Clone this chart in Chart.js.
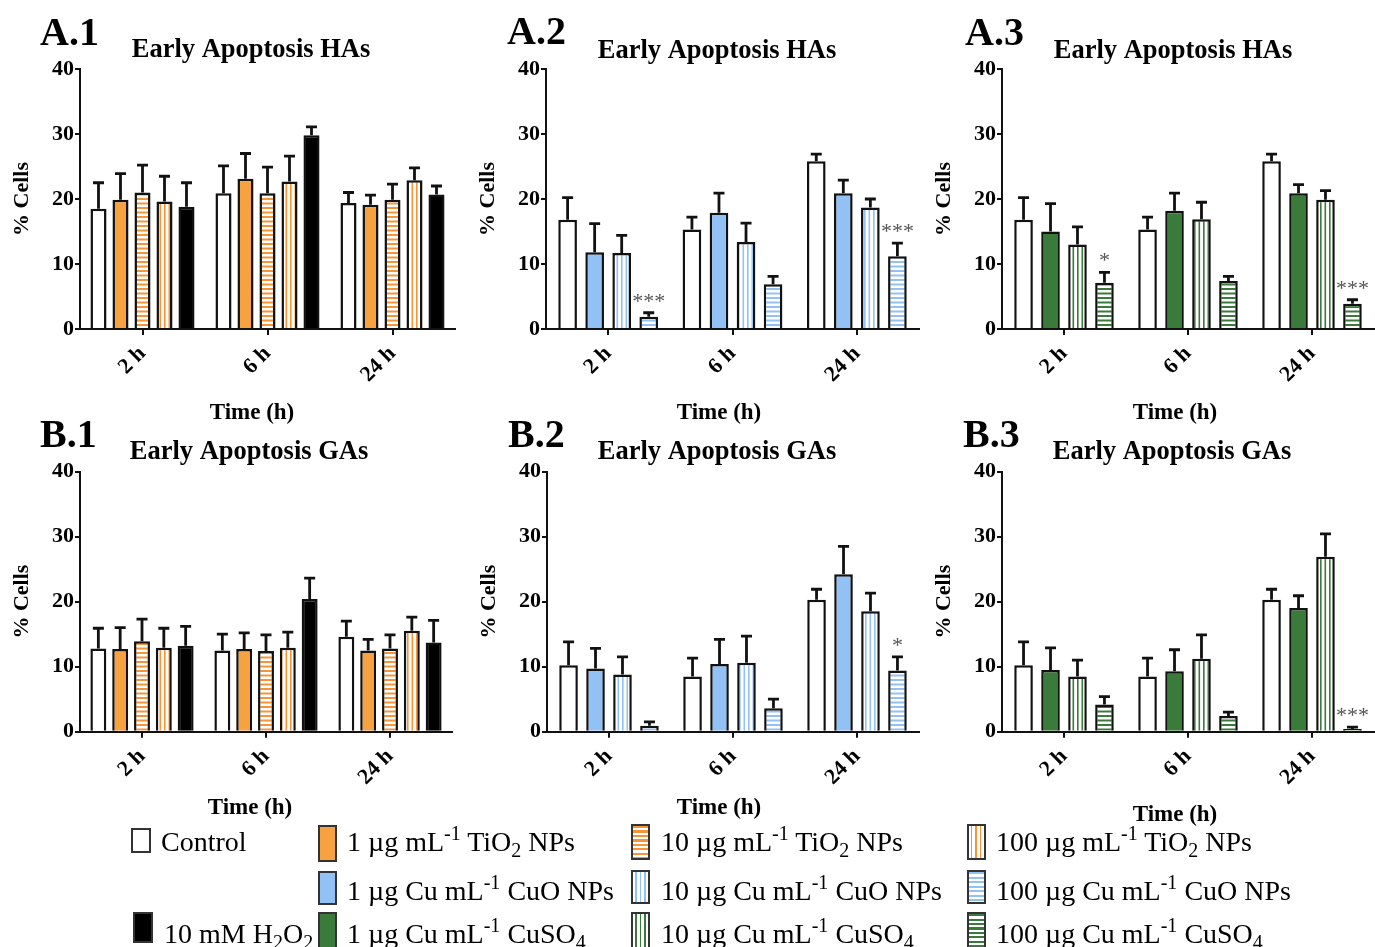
<!DOCTYPE html>
<html>
<head>
<meta charset="utf-8">
<script src="https://cdn.jsdelivr.net/npm/chart.js@4"></script>
<style>
html, body { margin: 0; padding: 0; background: #fff; }
body { width: 1375px; height: 947px; overflow: hidden; position: relative; font-family: "Liberation Serif", "Times New Roman", serif; }
canvas { position: absolute; }
.sw { position: absolute; box-sizing: border-box; border: 2px solid #333; }
.lt { position: absolute; font-size: 28px; line-height: 27px; white-space: nowrap; color: #000; }
.lt sup { font-size: 20px; line-height: 0; vertical-align: 11px; }
.lt sub { font-size: 20px; line-height: 0; vertical-align: -6px; }
</style>
</head>
<body>
<canvas id="a1"></canvas>
<canvas id="a2"></canvas>
<canvas id="a3"></canvas>
<canvas id="b1"></canvas>
<canvas id="b2"></canvas>
<canvas id="b3"></canvas>

<!-- legend -->
<div class="sw" style="left:131px;top:828px;width:20px;height:25px;background:#fff"></div>
<div class="lt" style="left:161px;top:828px">Control</div>
<div class="sw" style="left:133px;top:912px;width:20px;height:31px;background:#000"></div>
<div class="lt" style="left:164px;top:920px">10 mM H<sub>2</sub>O<sub>2</sub></div>

<div class="sw" style="left:318px;top:825px;width:19px;height:37px;background:#F7A240"></div>
<div class="lt" style="left:347px;top:828px">1 µg mL<sup>-1</sup> TiO<sub>2</sub> NPs</div>
<div class="sw" style="left:318px;top:871px;width:19px;height:34px;background:#92C1F5"></div>
<div class="lt" style="left:347px;top:877px">1 µg Cu mL<sup>-1</sup> CuO NPs</div>
<div class="sw" style="left:318px;top:912px;width:19px;height:40px;background:#3A7A3A"></div>
<div class="lt" style="left:347px;top:920px">1 µg Cu mL<sup>-1</sup> CuSO<sub>4</sub></div>

<div class="sw" style="left:631px;top:824px;width:19px;height:36px;background:repeating-linear-gradient(to bottom,#F79536 0 2px,#fff 2px 4.5px)"></div>
<div class="lt" style="left:661px;top:828px">10 µg mL<sup>-1</sup> TiO<sub>2</sub> NPs</div>
<div class="sw" style="left:631px;top:870px;width:19px;height:34px;background:repeating-linear-gradient(to right,#fff 0 2px,#92C1F5 2px 3.5px,#fff 3.5px 4.5px)"></div>
<div class="lt" style="left:661px;top:877px">10 µg Cu mL<sup>-1</sup> CuO NPs</div>
<div class="sw" style="left:631px;top:912px;width:19px;height:40px;background:repeating-linear-gradient(to right,#fff 0 2px,#3A7A3A 2px 3.5px,#fff 3.5px 4.5px)"></div>
<div class="lt" style="left:661px;top:920px">10 µg Cu mL<sup>-1</sup> CuSO<sub>4</sub></div>

<div class="sw" style="left:967px;top:824px;width:19px;height:36px;background:repeating-linear-gradient(to right,#fff 0 2px,#F79536 2px 3.5px,#fff 3.5px 4.5px)"></div>
<div class="lt" style="left:996px;top:828px">100 µg mL<sup>-1</sup> TiO<sub>2</sub> NPs</div>
<div class="sw" style="left:967px;top:870px;width:19px;height:34px;background:repeating-linear-gradient(to bottom,#92C1F5 0 2px,#fff 2px 4.5px)"></div>
<div class="lt" style="left:996px;top:877px">100 µg Cu mL<sup>-1</sup> CuO NPs</div>
<div class="sw" style="left:967px;top:912px;width:19px;height:40px;background:repeating-linear-gradient(to bottom,#3A7A3A 0 2px,#fff 2px 4.5px)"></div>
<div class="lt" style="left:996px;top:920px">100 µg Cu mL<sup>-1</sup> CuSO<sub>4</sub></div>

<script>
var times = ['2 h', '6 h', '24 h'];
var yTicks = [0, 10, 20, 30, 40];

// A.1 - HAs, TiO2
var a1Control = [18.5, 20.9, 19.4], a1ControlErr = [4.0, 4.2, 1.6];
var a1Tio1 = [19.9, 23.1, 19.1], a1Tio1Err = [4.0, 3.9, 1.5];
var a1Tio10 = [21.0, 20.9, 19.9], a1Tio10Err = [4.2, 4.0, 2.4];
var a1Tio100 = [19.6, 22.7, 22.9], a1Tio100Err = [3.9, 3.9, 1.9];
var a1H2o2 = [18.8, 29.8, 20.7], a1H2o2Err = [3.7, 1.3, 1.3];

// A.2 - HAs, CuO NPs
var a2Control = [16.8, 15.3, 25.8], a2ControlErr = [3.4, 1.9, 1.1];
var a2Cuo1 = [11.8, 17.9, 20.9], a2Cuo1Err = [4.4, 3.0, 2.0];
var a2Cuo10 = [11.7, 13.4, 18.7], a2Cuo10Err = [2.7, 2.9, 1.3];
var a2Cuo100 = [1.9, 6.9, 11.2], a2Cuo100Err = [0.6, 1.2, 2.0];
var a2Cuo100Sig = ['***', '', '***'];

// A.3 - HAs, CuSO4
var a3Control = [16.8, 15.3, 25.8], a3ControlErr = [3.4, 1.9, 1.1];
var a3Cuso1 = [15.0, 18.2, 20.9], a3Cuso1Err = [4.3, 2.7, 1.3];
var a3Cuso10 = [13.0, 16.9, 19.9], a3Cuso10Err = [2.7, 2.6, 1.4];
var a3Cuso100 = [7.1, 7.4, 3.9], a3Cuso100Err = [1.6, 0.7, 0.6];
var a3Cuso100Sig = ['*', '', '***'];

// B.1 - GAs, TiO2
var b1Control = [12.8, 12.5, 14.6], b1ControlErr = [3.1, 2.5, 2.4];
var b1Tio1 = [12.7, 12.7, 12.5], b1Tio1Err = [3.3, 2.5, 1.7];
var b1Tio10 = [13.9, 12.4, 12.8], b1Tio10Err = [3.4, 2.5, 2.1];
var b1Tio100 = [12.9, 12.9, 15.5], b1Tio100Err = [3.0, 2.4, 2.1];
var b1H2o2 = [13.2, 20.4, 13.7], b1H2o2Err = [3.0, 3.2, 3.4];

// B.2 - GAs, CuO NPs
var b2Control = [10.2, 8.5, 20.3], b2ControlErr = [3.6, 2.8, 1.6];
var b2Cuo1 = [9.7, 10.4, 24.2], b2Cuo1Err = [3.1, 3.8, 4.3];
var b2Cuo10 = [8.8, 10.6, 18.5], b2Cuo10Err = [2.7, 4.1, 2.8];
var b2Cuo100 = [0.9, 3.6, 9.4], b2Cuo100Err = [0.6, 1.4, 2.1];
var b2Cuo100Sig = ['', '', '*'];

// B.3 - GAs, CuSO4
var b3Control = [10.2, 8.5, 20.3], b3ControlErr = [3.6, 2.8, 1.6];
var b3Cuso1 = [9.5, 9.3, 19.0], b3Cuso1Err = [3.4, 3.3, 1.9];
var b3Cuso10 = [8.5, 11.2, 26.9], b3Cuso10Err = [2.5, 3.7, 3.5];
var b3Cuso100 = [4.2, 2.4, 0.4], b3Cuso100Err = [1.2, 0.6, 0.3];
var b3Cuso100Sig = ['', '', '***'];

var FONT = '"Liberation Serif", "Times New Roman", serif';
var ORANGE = '#F7A240', ORANGE_LINE = '#F79536';
var BLUE = '#92C1F5';
var GREEN = '#3A7A3A';

Chart.defaults.color = '#000';
Chart.defaults.font.family = FONT;

// striped fills
function stripes(color, vertical) {
	var c = document.createElement('canvas');
	var ctx = c.getContext('2d');
	if (vertical) {
		c.width = 9; c.height = 4;
		ctx.fillStyle = '#fff'; ctx.fillRect(0, 0, 9, 4);
		ctx.fillStyle = color;
		ctx.fillRect(2, 0, 1.6, 4);
		ctx.fillRect(6.5, 0, 1.6, 4);
	} else {
		c.width = 4; c.height = 9;
		ctx.fillStyle = '#fff'; ctx.fillRect(0, 0, 4, 9);
		ctx.fillStyle = color;
		ctx.fillRect(0, 0, 4, 2);
		ctx.fillRect(0, 4.5, 4, 2);
	}
	return ctx.createPattern(c, 'repeat');
}

// error bars (upper whisker) + significance marks
var errorBars = {
	id: 'errorBars',
	afterDatasetsDraw: function(chart) {
		var ctx = chart.ctx, y = chart.scales.y;
		ctx.save();
		chart.data.datasets.forEach(function(ds, i) {
			var meta = chart.getDatasetMeta(i);
			meta.data.forEach(function(bar, j) {
				var top = y.getPixelForValue(ds.data[j] + ds.errors[j]);
				ctx.strokeStyle = '#111';
				ctx.lineWidth = 2.8;
				ctx.beginPath();
				ctx.moveTo(bar.x, bar.y);
				ctx.lineTo(bar.x, top);
				ctx.moveTo(bar.x - 5.5, top);
				ctx.lineTo(bar.x + 5.5, top);
				ctx.stroke();
				if (ds.sig && ds.sig[j]) {
					ctx.fillStyle = '#555';
					ctx.font = '22px ' + FONT;
					ctx.textAlign = 'center';
					ctx.textBaseline = 'alphabetic';
					ctx.fillText(ds.sig[j], bar.x, top - 5);
				}
			});
		});
		ctx.restore();
	}
};

// panel letter, title, x axis title
var panelText = {
	id: 'panelText',
	afterDraw: function(chart, args, o) {
		var ctx = chart.ctx;
		ctx.save();
		ctx.fillStyle = '#000';
		ctx.textBaseline = 'alphabetic';
		ctx.textAlign = 'left';
		ctx.font = 'bold 40px ' + FONT;
		ctx.fillText(o.label, o.labelX, o.labelY);
		ctx.textAlign = 'center';
		ctx.font = 'bold 26.5px ' + FONT;
		ctx.fillText(o.title, o.titleX, o.titleY);
		ctx.textBaseline = 'middle';
		ctx.font = 'bold 23px ' + FONT;
		ctx.fillText('Time (h)', o.xTitleX, o.xTitleY);
		ctx.restore();
	}
};

function series(values, errors, bg, sig) {
	return { data: values, errors: errors, sig: sig, backgroundColor: bg };
}

// p: id, axisX, plotRight, rowTop, areaTop, areaBottom, label..., list
function panel(p) {
	var left = p.axisX - 80, top = p.rowTop, h = 432;
	var w = p.plotRight - p.axisX + 80 + 8;
	var canvas = document.getElementById(p.id);
	canvas.width = w; canvas.height = h;
	canvas.style.left = left + 'px'; canvas.style.top = top + 'px';
	var n = p.list.length;
	var cp = n == 5 ? 0.88 : 0.87;
	var bp = n == 5 ? 0.73 : 0.69;
	var datasets = p.list.map(function(s) {
		s.borderColor = '#111';
		s.borderWidth = 2.5;
		s.categoryPercentage = cp;
		s.barPercentage = bp;
		return s;
	});
	new Chart(canvas.getContext('2d'), {
		type: 'bar',
		data: { labels: times, datasets: datasets },
		plugins: [errorBars, panelText],
		options: {
			responsive: false,
			animation: false,
			layout: { padding: { left: 0, right: 8, top: p.areaTop - top, bottom: 0 } },
			plugins: {
				legend: { display: false },
				tooltip: { enabled: false },
				panelText: {
					label: p.label, labelX: p.labelX - left, labelY: p.labelY - top,
					title: p.title, titleX: p.titleX - left, titleY: p.titleY - top,
					xTitleX: p.xTitleX - left, xTitleY: p.xTitleY - top
				}
			},
			scales: {
				x: {
					grid: { drawOnChartArea: false, drawTicks: true, tickLength: 6, offset: false, color: '#111', lineWidth: 2 },
					border: { display: true, color: '#111', width: 2 },
					ticks: { minRotation: 45, maxRotation: 45, padding: 6, color: '#000', font: { size: 22, weight: 'bold' } },
					afterFit: function(s) { s.height = h - (p.areaBottom - top); }
				},
				y: {
					min: 0,
					max: 40,
					afterBuildTicks: function(s) { s.ticks = yTicks.map(function(v) { return { value: v }; }); },
					grid: { drawOnChartArea: false, drawTicks: true, tickLength: 5, color: '#111', lineWidth: 2 },
					border: { display: true, color: '#111', width: 2 },
					ticks: { padding: 1, color: '#000', font: { size: 22, weight: 'bold' } },
					title: { display: true, text: '% Cells', color: '#000', font: { size: 22, weight: 'bold' }, padding: { top: 9, bottom: 0 } },
					afterFit: function(s) { s.width = 80; }
				}
			}
		}
	});
}

var tio10 = stripes(ORANGE_LINE, false), tio100 = stripes(ORANGE_LINE, true);
var cuo10 = stripes(BLUE, true), cuo100 = stripes(BLUE, false);
var cuso10 = stripes(GREEN, true), cuso100 = stripes(GREEN, false);

panel({ id: 'a1', axisX: 80, plotRight: 455, rowTop: 0, areaTop: 69, areaBottom: 329,
	label: 'A.1', labelX: 40, labelY: 45, title: 'Early Apoptosis HAs', titleX: 251, titleY: 57, xTitleX: 252, xTitleY: 413,
	list: [series(a1Control, a1ControlErr, '#fff'), series(a1Tio1, a1Tio1Err, ORANGE), series(a1Tio10, a1Tio10Err, tio10),
		series(a1Tio100, a1Tio100Err, tio100), series(a1H2o2, a1H2o2Err, '#000')] });

panel({ id: 'a2', axisX: 546, plotRight: 919, rowTop: 0, areaTop: 69, areaBottom: 329,
	label: 'A.2', labelX: 507, labelY: 44, title: 'Early Apoptosis HAs', titleX: 717, titleY: 58, xTitleX: 719, xTitleY: 413,
	list: [series(a2Control, a2ControlErr, '#fff'), series(a2Cuo1, a2Cuo1Err, BLUE), series(a2Cuo10, a2Cuo10Err, cuo10),
		series(a2Cuo100, a2Cuo100Err, cuo100, a2Cuo100Sig)] });

panel({ id: 'a3', axisX: 1002, plotRight: 1374, rowTop: 0, areaTop: 69, areaBottom: 329,
	label: 'A.3', labelX: 965, labelY: 45, title: 'Early Apoptosis HAs', titleX: 1173, titleY: 58, xTitleX: 1175, xTitleY: 413,
	list: [series(a3Control, a3ControlErr, '#fff'), series(a3Cuso1, a3Cuso1Err, GREEN), series(a3Cuso10, a3Cuso10Err, cuso10),
		series(a3Cuso100, a3Cuso100Err, cuso100, a3Cuso100Sig)] });

panel({ id: 'b1', axisX: 80, plotRight: 452, rowTop: 400, areaTop: 471.5, areaBottom: 731.7,
	label: 'B.1', labelX: 40, labelY: 447, title: 'Early Apoptosis GAs', titleX: 249, titleY: 459, xTitleX: 250, xTitleY: 808,
	list: [series(b1Control, b1ControlErr, '#fff'), series(b1Tio1, b1Tio1Err, ORANGE), series(b1Tio10, b1Tio10Err, tio10),
		series(b1Tio100, b1Tio100Err, tio100), series(b1H2o2, b1H2o2Err, '#000')] });

panel({ id: 'b2', axisX: 547, plotRight: 919, rowTop: 400, areaTop: 471.5, areaBottom: 731.7,
	label: 'B.2', labelX: 508, labelY: 447, title: 'Early Apoptosis GAs', titleX: 717, titleY: 459, xTitleX: 719, xTitleY: 808,
	list: [series(b2Control, b2ControlErr, '#fff'), series(b2Cuo1, b2Cuo1Err, BLUE), series(b2Cuo10, b2Cuo10Err, cuo10),
		series(b2Cuo100, b2Cuo100Err, cuo100, b2Cuo100Sig)] });

panel({ id: 'b3', axisX: 1002, plotRight: 1374, rowTop: 400, areaTop: 471.5, areaBottom: 731.7,
	label: 'B.3', labelX: 963, labelY: 447, title: 'Early Apoptosis GAs', titleX: 1172, titleY: 459, xTitleX: 1175, xTitleY: 815,
	list: [series(b3Control, b3ControlErr, '#fff'), series(b3Cuso1, b3Cuso1Err, GREEN), series(b3Cuso10, b3Cuso10Err, cuso10),
		series(b3Cuso100, b3Cuso100Err, cuso100, b3Cuso100Sig)] });
</script>
</body>
</html>
